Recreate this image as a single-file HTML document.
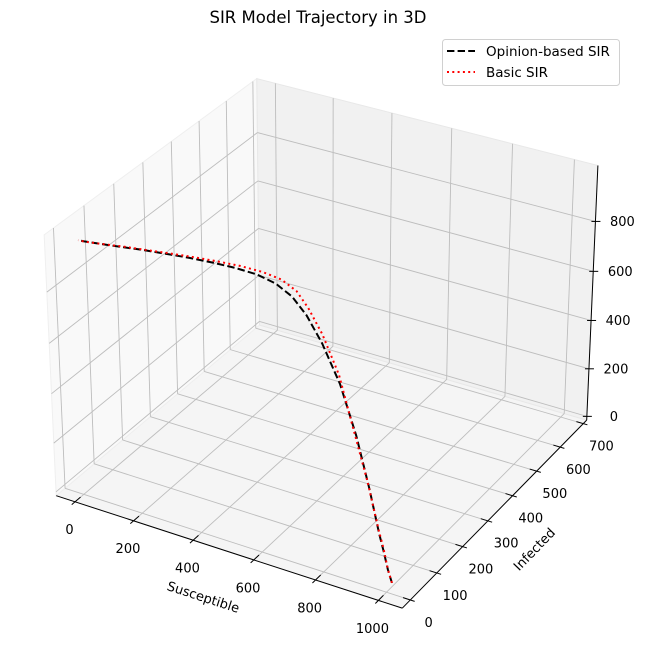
<!DOCTYPE html>
<html><head><meta charset="utf-8"><style>
html,body{margin:0;padding:0;background:#fff;}
svg{display:block;font-family:"DejaVu Sans","Liberation Sans",sans-serif;}
</style></head><body>
<svg id="chart" width="645" height="658" viewBox="0 0 645 658" xmlns="http://www.w3.org/2000/svg">
<text x="318" y="23" text-anchor="middle" font-size="16.5">SIR Model Trajectory in 3D</text>
<g id="panes"></g>
<g id="grid"></g>
<g id="axes"></g>
<g id="series"></g>
<g>
<rect x="442.5" y="39.5" width="177" height="46" rx="3" fill="#fff" fill-opacity="0.8" stroke="#d0d0d0"/>
<line x1="447" y1="51" x2="475" y2="51" stroke="#000" stroke-width="2" stroke-dasharray="7.4,3.2"/>
<text x="486" y="56" font-size="13.5">Opinion-based SIR</text>
<line x1="447" y1="72" x2="475" y2="72" stroke="#f00" stroke-width="2" stroke-dasharray="2,3.3"/>
<text x="486" y="77" font-size="13.5">Basic SIR</text>
</g>
</svg>
<script>
const xTicks = [0,200,400,600,800,1000];
const yTicks = [0,100,200,300,400,500,600,700];
const zTicks = [0,200,400,600,800];
const opinionS = [1000,960,905,855,725,565,405,272,182,122,82,56,41,31,23,17,13,10,8,6,5,5];
const opinionI = [20,52,100,142,256,390,510,590,630,640,620,575,510,440,365,290,218,155,103,62,30,10];
const opinionR = [0,2,5,10,25,50,90,140,190,240,300,370,450,530,613,693,770,835,889,932,966,988];
const basicS = [1000,958,900,845,705,535,375,242,157,102,67,46,33,25,19,14,11,8,7,6,5,5];
const basicI = [20,54,106,152,272,410,540,625,665,680,660,610,540,460,380,300,225,160,106,64,31,11];
const basicR = [0,2,5,10,30,60,90,135,180,220,275,345,428,516,602,686,764,832,887,930,964,987];

const xlim=[-65,1075], ylim=[-30,715], zlim=[-16,1020];
const NS="http://www.w3.org/2000/svg";
const nrm=Math.hypot(4,4,3), K=1.8294640721620434;
const box=[4/nrm*K,4/nrm*K,3/nrm*K];
const el=30*Math.PI/180, az=-60*Math.PI/180;
const w=[Math.cos(el)*Math.cos(az),Math.cos(el)*Math.sin(az),Math.sin(el)];
const Rc=[box[0]/2,box[1]/2,box[2]/2];
const eye=[Rc[0]+10*w[0],Rc[1]+10*w[1],Rc[2]+10*w[2]];
function cross(a,b){return [a[1]*b[2]-a[2]*b[1],a[2]*b[0]-a[0]*b[2],a[0]*b[1]-a[1]*b[0]];}
function dot(a,b){return a[0]*b[0]+a[1]*b[1]+a[2]*b[2];}
let u=cross([0,0,1],w);const un=Math.hypot(...u);u=u.map(t=>t/un);
const v=cross(w,u);
function raw(x,y,z){
 const p=[(x-xlim[0])/(xlim[1]-xlim[0])*box[0],(y-ylim[0])/(ylim[1]-ylim[0])*box[1],(z-zlim[0])/(zlim[1]-zlim[0])*box[2]];
 const d=[p[0]-eye[0],p[1]-eye[1],p[2]-eye[2]];
 const zv=dot(w,d);return [dot(u,d)/(-zv),dot(v,d)/(-zv)];
}
const fitPts=[[[0,0,0],[56,496]],[[1,0,0],[403,608]],[[1,1,0],[586,421]],[[1,1,1],[598,165]],[[0,1,1],[257,80]],[[0,0,1],[44,233]]];
function lim(a,i){return a[0]+(a[1]-a[0])*i;}
const rp=fitPts.map(f=>raw(lim(xlim,f[0][0]),lim(ylim,f[0][1]),lim(zlim,f[0][2])));
function fit(idx){
 const n=rp.length;let mp=0,ms=0;
 for(let i=0;i<n;i++){mp+=rp[i][idx];ms+=fitPts[i][1][idx];}mp/=n;ms/=n;
 let num=0,den=0;for(let i=0;i<n;i++){num+=(rp[i][idx]-mp)*(fitPts[i][1][idx]-ms);den+=(rp[i][idx]-mp)**2;}
 const k=num/den;return [k,ms-k*mp];
}
const FX=fit(0),FY=fit(1);
function P(x,y,z){const r=raw(x,y,z);return [FX[0]*r[0]+FX[1],FY[0]*r[1]+FY[1]];}
function mk(tag,parent,attrs){const e=document.createElementNS(NS,tag);for(const k in attrs)e.setAttribute(k,attrs[k]);parent.appendChild(e);return e;}
function pts(arr){return arr.map(p=>p[0].toFixed(2)+","+p[1].toFixed(2)).join(" ");}
const [x0,x1]=xlim,[y0,y1]=ylim,[z0,z1]=zlim;
const panes=document.getElementById('panes');
let pn;
pn=mk('polygon',panes,{points:pts([P(x0,y0,z0),P(x1,y0,z0),P(x1,y1,z0),P(x0,y1,z0)]),fill:'#f5f5f5',stroke:'#ececec'});


pn=mk('polygon',panes,{points:pts([P(x0,y0,z0),P(x0,y1,z0),P(x0,y1,z1),P(x0,y0,z1)]),fill:'#f9f9f9',stroke:'#efefef'});


pn=mk('polygon',panes,{points:pts([P(x0,y1,z0),P(x1,y1,z0),P(x1,y1,z1),P(x0,y1,z1)]),fill:'#f1f1f1',stroke:'#e8e8e8'});


const grid=document.getElementById('grid');
const gs={stroke:'#bdbdbd','stroke-width':0.9,fill:'none'};
function gl(a,b,name){const e=mk('polyline',grid,Object.assign({points:pts([a,b])},gs));

}
xTicks.forEach(t=>{gl(P(t,y0,z0),P(t,y1,z0),'x-grid-floor');gl(P(t,y1,z0),P(t,y1,z1),'x-grid-back');});
yTicks.forEach(t=>{gl(P(x1,t,z0),P(x0,t,z0),'y-grid-floor');gl(P(x0,t,z0),P(x0,t,z1),'y-grid-left');});
zTicks.forEach(t=>{gl(P(x0,y0,t),P(x0,y1,t),'z-grid-left');gl(P(x0,y1,t),P(x1,y1,t),'z-grid-back');});
const axes=document.getElementById('axes');
function line(a,b,name){const e=mk('line',axes,{x1:a[0],y1:a[1],x2:b[0],y2:b[1],stroke:'#000','stroke-width':1});

}
function txt(x,y,s,name,extra){const e=mk('text',axes,Object.assign({x:x,y:y,'text-anchor':'middle','dominant-baseline':'central','font-size':13},extra||{}));e.textContent=s;

return e;}
line(P(x0,y0,z0),P(x1,y0,z0),'x-axis-line');
line(P(x1,y0,z0),P(x1,y1,z0),'y-axis-line');
line(P(x1,y1,z0),P(x1,y1,z1),'z-axis-line');
const dy=(y1-y0)*0.025,dx=(x1-x0)*0.02;
xTicks.forEach(t=>{const a=P(t,y0+dy,z0),b=P(t,y0-dy*0.6,z0);line(a,b,'x-tick');txt(a[0]-11,b[1]+26,String(t),'x-tick-label');});
yTicks.forEach(t=>{const a=P(x1-dx,t,z0),b=P(x1+dx*0.6,t,z0);line(a,b,'y-tick');txt(b[0]+14,b[1]+22,String(t),'y-tick-label');});
zTicks.forEach(t=>{const a=P(x1,y1,t);line([a[0]-4,a[1]],[a[0]+5,a[1]],'z-tick');txt(a[0]+27,a[1]+1,String(t),'z-tick-label');});
txt(203,598,'Susceptible','x-axis-title',{transform:'rotate(18 203 598)'});
txt(535,550,'Infected','y-axis-title',{transform:'rotate(-46 535 550)'});
txt(652,300,'Recovered','z-axis-title',{transform:'rotate(-90 652 300)'});
const series=document.getElementById('series');
function drawSeries(S,I,R,color,dash,name){
 const p=S.map((s,i)=>P(s,I[i],R[i]));
 const e=mk('polyline',series,{points:pts(p),fill:'none',stroke:color,'stroke-width':2,'stroke-dasharray':dash});
 
 
}
drawSeries(opinionS,opinionI,opinionR,'#000','7.4,3.2','opinion-sir-line');
drawSeries(basicS,basicI,basicR,'#f00','2,3.3','basic-sir-line');
</script>
</body></html>
